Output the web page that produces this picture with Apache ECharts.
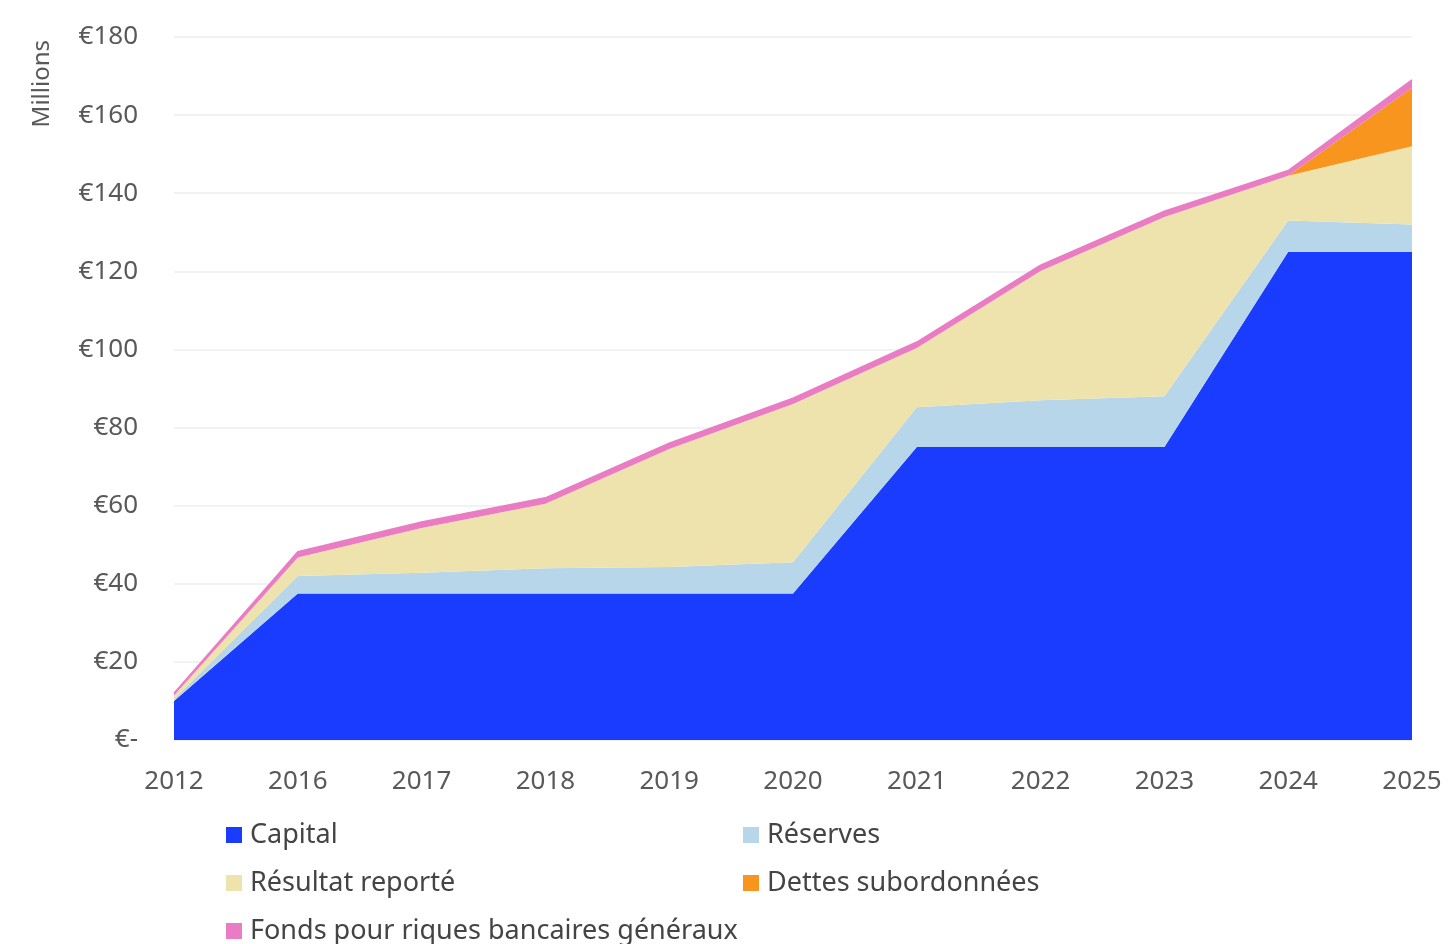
<!DOCTYPE html>
<html>
<head>
<meta charset="utf-8">
<script src="https://cdn.jsdelivr.net/npm/echarts@6/dist/echarts.min.js"></script>
<style>
  html, body { margin: 0; padding: 0; background: #ffffff; }
  #chart { width: 1450px; height: 944px; }
</style>
</head>
<body>
<div id="chart"></div>
<script>
// Years on the category axis
const years = ['2012', '2016', '2017', '2018', '2019', '2020', '2021', '2022', '2023', '2024', '2025'];

// Own funds components, in millions of euros (stacked)
const capital      = [10, 37.5, 37.5, 37.5, 37.5, 37.5, 75, 75, 75, 125, 125];
const reserves     = [0.5, 4.5, 5.3, 6.5, 6.8, 8, 10.2, 12, 13, 8, 7];
const resultat     = [0.9, 4.7, 11.5, 16.5, 30.2, 40.5, 15.2, 33.1, 45.9, 11.5, 20];
const dettesSub    = [0, 0, 0, 0, 0, 0, 0, 0, 0, 0, 15];
const fondsRisques = [0.6, 1.5, 1.5, 1.5, 1.5, 1.5, 1.5, 1.5, 1.5, 1.3, 2];

// Value axis ticks
const yMin = 0, yMax = 180, yStep = 20;

const seriesNames = ['Capital', 'Réserves', 'Résultat reporté', 'Dettes subordonnées', 'Fonds pour riques bancaires généraux'];
const seriesData = [capital, reserves, resultat, dettesSub, fondsRisques];
const seriesColors = ['#1a3cff', '#b7d6ea', '#efe3ad', '#f7951e', '#e97cc3'];

const labelFont = '"Noto Sans", "Open Sans", sans-serif';

// Legend slots: two columns, three rows
const legendSlots = [
  { name: seriesNames[0], left: 226, row: 0 },
  { name: seriesNames[1], left: 743, row: 0 },
  { name: seriesNames[2], left: 226, row: 1 },
  { name: seriesNames[3], left: 743, row: 1 },
  { name: seriesNames[4], left: 226, row: 2 }
];

const chart = echarts.init(document.getElementById('chart'), null, { renderer: 'canvas' });

const series = seriesNames.map((name, i) => ({
  name: name,
  type: 'line',
  stack: 'total',
  data: seriesData[i],
  symbol: 'none',
  smooth: false,
  lineStyle: { width: i === 4 ? 1.5 : 0, color: seriesColors[i] },
  itemStyle: { color: seriesColors[i] },
  areaStyle: { color: seriesColors[i], opacity: 1 },
  emphasis: { disabled: true },
  z: 2
}));

const legends = legendSlots.map(s => ({
  data: [s.name],
  orient: 'horizontal',
  left: s.left,
  top: 820 + s.row * 48,
  padding: 0,
  itemWidth: 16, itemHeight: 16,
  icon: 'rect',
  selectedMode: false,
  textStyle: { color: '#444444', fontSize: 27, fontFamily: labelFont, lineHeight: 30, padding: [0, 0, 0, 3] }
}));

chart.setOption({
  animation: false,
  backgroundColor: '#ffffff',
  grid: { left: 174, right: 38, top: 37, bottom: 204, containLabel: false },
  xAxis: {
    type: 'category',
    data: years,
    boundaryGap: false,
    axisLine: { show: false },
    axisTick: { show: false },
    axisLabel: { color: '#595959', fontSize: 26, fontFamily: labelFont, margin: 29 }
  },
  yAxis: {
    type: 'value',
    min: yMin,
    max: yMax,
    interval: yStep,
    axisLine: { show: false },
    axisTick: { show: false },
    splitLine: { lineStyle: { color: '#eeeeee', width: 1.5 } },
    axisLabel: {
      color: '#595959', fontSize: 26, fontFamily: labelFont, margin: 36,
      formatter: v => v === 0 ? '€-' : '€' + v
    }
  },
  legend: legends,
  graphic: [
    {
      type: 'text',
      left: 30, top: 40,
      rotation: Math.PI / 2,
      style: { text: 'Millions', fill: '#595959', font: '24px ' + labelFont }
    }
  ],
  series: series
});
</script>
</body>
</html>
